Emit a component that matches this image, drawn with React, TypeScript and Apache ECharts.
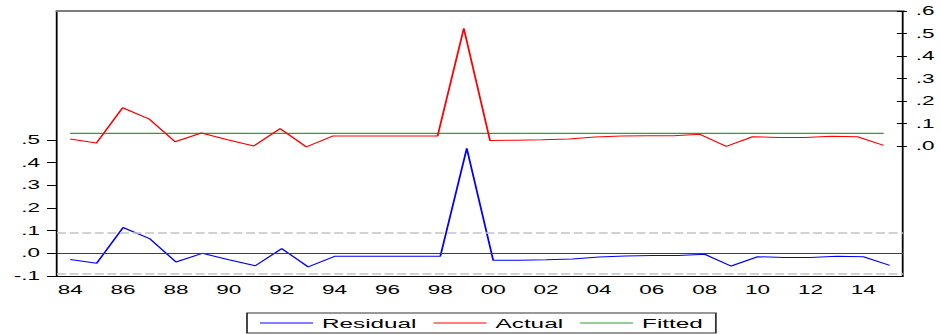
import React, { useEffect, useRef } from 'react';
import * as echarts from 'echarts';

// ---- data ----
const years = [
  '84', '85', '86', '87', '88', '89', '90', '91', '92', '93', '94', '95', '96', '97', '98', '99',
  '00', '01', '02', '03', '04', '05', '06', '07', '08', '09', '10', '11', '12', '13', '14', '15',
];
const residual = [
  -0.027, -0.044, 0.114, 0.065, -0.038, 0.0, -0.028, -0.055, 0.021, -0.06, -0.013, -0.013, -0.013, -0.013, -0.013, 0.463,
  -0.031, -0.03, -0.028, -0.025, -0.016, -0.012, -0.01, -0.01, -0.004, -0.056, -0.015, -0.018, -0.018, -0.013, -0.015, -0.053,
];
const actual = [
  0.031, 0.013, 0.17, 0.121, 0.019, 0.058, 0.028, 0.0, 0.077, -0.004, 0.044, 0.044, 0.044, 0.044, 0.044, 0.523,
  0.024, 0.026, 0.028, 0.031, 0.04, 0.044, 0.046, 0.046, 0.052, -0.002, 0.041, 0.038, 0.038, 0.043, 0.041, 0.003,
];
const fitted = [
  0.056, 0.056, 0.056, 0.056, 0.056, 0.056, 0.056, 0.056, 0.056, 0.056, 0.056, 0.056, 0.056, 0.056, 0.056, 0.056,
  0.056, 0.056, 0.056, 0.056, 0.056, 0.056, 0.056, 0.056, 0.056, 0.056, 0.056, 0.056, 0.056, 0.056, 0.056, 0.056,
];
const seSpan = 0.092;
const leftTickLabels = ['-.1', '.0', '.1', '.2', '.3', '.4', '.5'];
const rightTickLabels = ['.0', '.1', '.2', '.3', '.4', '.5', '.6'];
const legendNames = ['Residual', 'Actual', 'Fitted'];
const colors = ['#0000ff', '#ff0000', '#2f9f2f'];

// ---- layout (the reference is horizontally stretched) ----
const S = 1.8;
const W = 940 / S;
const H = 334;
const FONT = '"Liberation Sans", Arial, sans-serif';

export default function App() {
  const ref = useRef<HTMLDivElement>(null);
  useEffect(() => {
    const chart = echarts.init(ref.current!, null, { renderer: 'svg', width: W, height: H });
    const gl = 57 / S;
    const gr = 37 / S;
    const hidden = { show: false };
    const lblStyle = { fontSize: 12.5, color: '#000', fontFamily: FONT };
    chart.setOption({
      animation: false,
      textStyle: { fontFamily: FONT },
      grid: [
        { left: gl, right: gr, top: 11, bottom: 58 },
        { left: gl, right: gr, top: 140, bottom: 58 },
        { left: gl, right: gr, top: 11, height: 135 },
      ],
      xAxis: [
        {
          gridIndex: 0, type: 'category', data: years, boundaryGap: true,
          axisLine: { onZero: false, lineStyle: { color: '#000', width: 1 } },
          axisTick: { interval: 0, length: 5, lineStyle: { color: '#000' } },
          axisLabel: { interval: 1, margin: 7, ...lblStyle },
          splitLine: hidden,
        },
        { gridIndex: 1, type: 'category', data: years, boundaryGap: true, show: false },
        { gridIndex: 2, type: 'category', data: years, boundaryGap: true, show: false },
        {
          gridIndex: 0, type: 'category', data: years, position: 'top',
          axisLine: { show: true, onZero: false, lineStyle: { color: '#7d7d7d', width: 2 } },
          axisTick: hidden, axisLabel: hidden, splitLine: hidden,
        },
      ],
      yAxis: [
        { gridIndex: 0, type: 'value', position: 'left', min: 0, max: 1, axisLine: { show: true, onZero: false, lineStyle: { color: '#000' } }, axisTick: hidden, axisLabel: hidden, splitLine: hidden },
        { gridIndex: 0, type: 'value', position: 'right', min: 0, max: 1, axisLine: { show: true, onZero: false, lineStyle: { color: '#000' } }, axisTick: hidden, axisLabel: hidden, splitLine: hidden },
        {
          gridIndex: 1, type: 'value', position: 'left', min: -0.1, max: 0.5, interval: 0.1,
          axisLine: { show: false, onZero: false },
          axisTick: { show: true, length: 10 / S, lineStyle: { color: '#000' } },
          axisLabel: { margin: 17 / S, ...lblStyle, formatter: (v: number) => leftTickLabels[Math.round((v + 0.1) * 10)] },
          splitLine: hidden,
        },
        {
          gridIndex: 2, type: 'value', position: 'right', min: 0, max: 0.6, interval: 0.1,
          axisLine: { show: false, onZero: false },
          axisTick: { show: true, length: 10 / S, lineStyle: { color: '#000' } },
          axisLabel: { margin: 19 / S, ...lblStyle, formatter: (v: number) => rightTickLabels[Math.round(v * 10)] },
          splitLine: hidden,
        },
      ],
      legend: {
        data: legendNames.map((n) => ({ name: n, icon: 'rect' })),
        left: 247 / S, top: 313,
        itemWidth: 53 / S, itemHeight: 1.2, itemGap: 17 / S,
        padding: [3, 13 / S, 3, 13 / S],
        borderColor: '#333', borderWidth: 1,
        textStyle: { fontSize: 13.5, color: '#000', fontFamily: FONT },
      },
      series: [
        {
          name: legendNames[0], type: 'line', xAxisIndex: 1, yAxisIndex: 2, data: residual,
          symbol: 'none', lineStyle: { color: colors[0], width: 1 }, itemStyle: { color: colors[0] }, z: 3,
          markLine: {
            silent: true, symbol: 'none', label: { show: false },
            data: [
              { yAxis: 0, lineStyle: { color: '#404040', type: 'solid', width: 1 } },
              { yAxis: seSpan, lineStyle: { color: '#c4c4c4', type: [5, 2], width: 1.5 } },
              { yAxis: -seSpan, lineStyle: { color: '#c4c4c4', type: [5, 2], width: 1.5 } },
            ],
          },
        },
        {
          name: legendNames[1], type: 'line', xAxisIndex: 2, yAxisIndex: 3, data: actual, clip: false,
          symbol: 'none', lineStyle: { color: colors[1], width: 1 }, itemStyle: { color: colors[1] }, z: 3,
        },
        {
          name: legendNames[2], type: 'line', xAxisIndex: 2, yAxisIndex: 3, data: fitted, clip: false,
          symbol: 'none', lineStyle: { color: colors[2], width: 1.3 }, itemStyle: { color: colors[2] }, z: 2,
        },
      ],
    });
    return () => chart.dispose();
  }, []);
  return (
    <div style={{ position: 'fixed', left: 0, top: 0, width: 940, height: 334, overflow: 'hidden', background: '#fff' }}>
      <div ref={ref} style={{ width: W, height: H, transform: `scaleX(${S})`, transformOrigin: '0 0' }} />
    </div>
  );
}
